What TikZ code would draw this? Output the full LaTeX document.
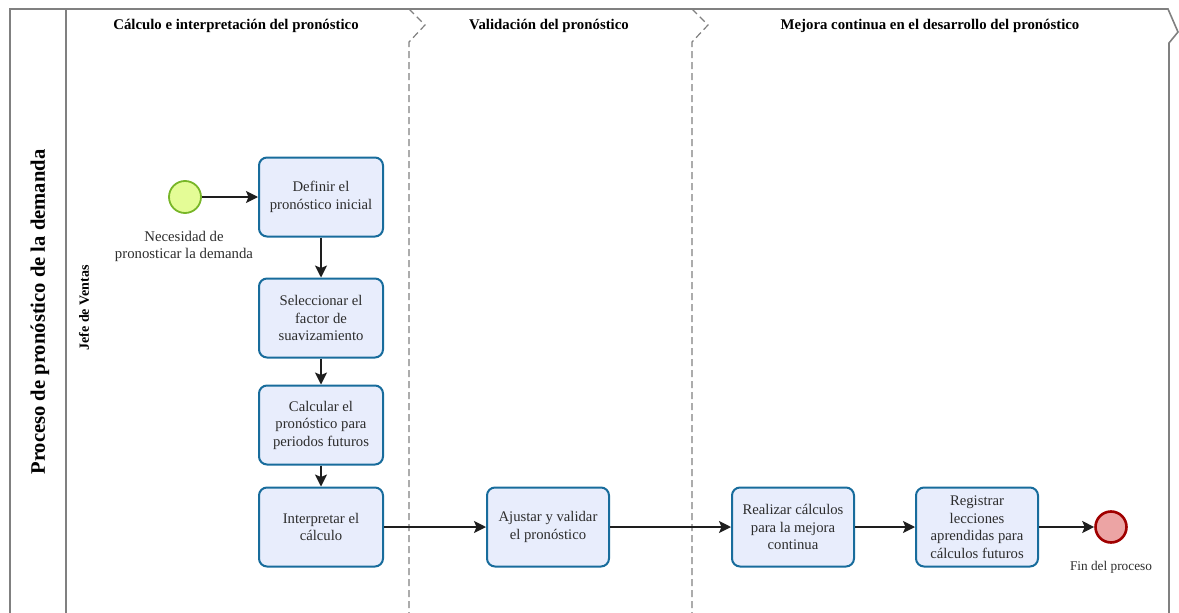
\documentclass[tikz,border=0pt]{standalone}
\usepackage{fontspec}
\setmainfont{Liberation Serif}
\usetikzlibrary{arrows.meta}

\definecolor{taskfill}{RGB}{232,237,252}
\definecolor{taskline}{RGB}{24,108,156}
\definecolor{startfill}{RGB}{228,252,150}
\definecolor{startline}{RGB}{120,182,40}
\definecolor{endfill}{RGB}{236,164,164}
\definecolor{endline}{RGB}{160,0,0}
\definecolor{poolline}{RGB}{128,128,128}
\definecolor{flowline}{RGB}{30,30,30}
\definecolor{labeltext}{RGB}{45,45,45}

\tikzset{
  task/.style={draw=taskline, fill=taskfill, line width=2pt, rounded corners=8pt,
    minimum width=124pt, minimum height=79pt, align=center,
    font=\fontsize{14.7}{17.5}\selectfont, text=labeltext, inner sep=0pt},
  startevt/.style={circle, draw=startline, fill=startfill, line width=1.8pt,
    minimum size=32pt, inner sep=0pt},
  endevt/.style={circle, draw=endline, fill=endfill, line width=2.6pt,
    minimum size=31pt, inner sep=0pt},
  evtlabel/.style={align=center, font=\fontsize{14.8}{17}\selectfont, text=labeltext, inner sep=0pt},
  phasetitle/.style={font=\bfseries\fontsize{14.8}{16}\selectfont, inner sep=0pt},
  flow/.style={draw=flowline, line width=1.4pt,
    -{Stealth[length=12pt,width=12pt,inset=2.5pt]}},
  poolborder/.style={draw=poolline, line width=1.6pt},
  phasesep/.style={draw=poolline, line width=1.2pt, dash pattern=on 7pt off 4pt},
}

\begin{document}
\begin{tikzpicture}[x=1pt, y=-1pt]
\useasboundingbox (0,0) rectangle (1179,613);

% pool frame with right-hand chevron
\draw[poolborder] (10,613) -- (10,9) -- (1168,9) -- (1178,32) -- (1169,43) -- (1169,613);
\draw[poolborder] (66,9) -- (66,613);

% phase separators
\draw[phasesep] (409,9) -- (425,25) -- (409,42) -- (409,613);
\draw[phasesep] (692,9) -- (708,25) -- (692,42) -- (692,613);

% pool and lane titles
\node[rotate=90, font=\bfseries\fontsize{20.6}{23}\selectfont, inner sep=0pt] (pool) at (40,312) {Proceso de pronóstico de la demanda};
\node[rotate=90, font=\bfseries\fontsize{14}{16}\selectfont, inner sep=0pt] (lane) at (84,308) {Jefe de Ventas};

% phase titles
\node[phasetitle] (ph1) at (236,26) {Cálculo e interpretación del pronóstico};
\node[phasetitle] (ph2) at (549,26) {Validación del pronóstico};
\node[phasetitle] (ph3) at (930,26) {Mejora continua en el desarrollo del pronóstico};

% events
\node[startevt] (start) at (185,197) {};
\node[evtlabel] (startlbl) at (184,246) {Necesidad de\\pronosticar la demanda};
\node[endevt] (end) at (1111,527) {};
\node[evtlabel, font=\fontsize{13.3}{16}\selectfont] (endlbl) at (1111,567) {Fin del proceso};

% tasks
\node[task] (t1) at (321,197) {Definir el\\pronóstico inicial};
\node[task] (t2) at (321,318) {Seleccionar el\\factor de\\suavizamiento};
\node[task] (t3) at (321,425) {Calcular el\\pronóstico para\\periodos futuros};
\node[task] (t4) at (321,527) {Interpretar el\\cálculo};
\node[task, minimum width=122pt] (t5) at (548,527) {Ajustar y validar\\el pronóstico};
\node[task, minimum width=122pt] (t6) at (793,527) {Realizar cálculos\\para la mejora\\continua};
\node[task, minimum width=122pt] (t7) at (977,527) {Registrar\\lecciones\\aprendidas para\\cálculos futuros};

% sequence flows
\draw[flow] (start) -- (t1);
\draw[flow] (t1) -- (t2);
\draw[flow] (t2) -- (t3);
\draw[flow] (t3) -- (t4);
\draw[flow] (t4) -- (t5);
\draw[flow] (t5) -- (t6);
\draw[flow] (t6) -- (t7);
\draw[flow] (t7) -- (end);
\end{tikzpicture}
\end{document}
